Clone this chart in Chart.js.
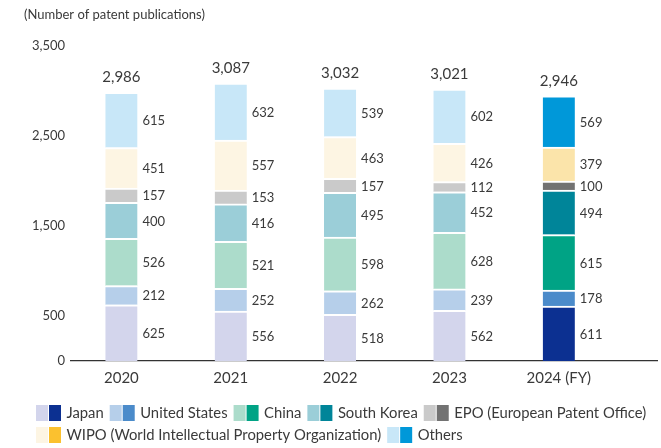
<!DOCTYPE html>
<html>
<head>
<meta charset="utf-8">
<script src="https://cdn.jsdelivr.net/npm/chart.js@4"></script>
<style>
  html, body { margin: 0; padding: 0; background: #fff; }
  #wrap { width: 661px; height: 448px; position: relative; }
</style>
</head>
<body>
<div id="wrap"><canvas id="c" width="661" height="448"></canvas></div>
<script>
const categories = ['2020', '2021', '2022', '2023', '2024 (FY)'];
const japan      = [625, 556, 518, 562, 611];
const us         = [212, 252, 262, 239, 178];
const china      = [526, 521, 598, 628, 615];
const korea      = [400, 416, 495, 452, 494];
const epo        = [157, 153, 157, 112, 100];
const wipo       = [451, 557, 463, 426, 379];
const others     = [615, 632, 539, 602, 569];
const totals     = [2986, 3087, 3032, 3021, 2946];
const yTickValues = [0, 500, 1500, 2500, 3500];

const seriesNames = ['Japan', 'United States', 'China', 'South Korea', 'EPO (European Patent Office)', 'WIPO (World Intellectual Property Organization)', 'Others'];
const seriesData = [japan, us, china, korea, epo, wipo, others];
const lightColors = ['#d3d5ec', '#b6cfea', '#acdccb', '#9bced8', '#cacaca', '#fdf5e3', '#c8e7f8'];
const darkColors  = ['#0c3091', '#4b8bca', '#00a385', '#008599', '#727272', '#fbe4aa', '#0098d9'];
const legendDark  = ['#0c3091', '#4b8bca', '#00a385', '#008599', '#727272', '#fbc12f', '#0098d9'];

const FONT = 'Lato, "Noto Sans", sans-serif';
const TEXT = '#3a3a3a';

const datasets = seriesData.map((arr, s) => ({
  label: seriesNames[s],
  data: arr.map((v, i) => ({ x: i, y: v })),
  backgroundColor: arr.map((v, i) => i === arr.length - 1 ? darkColors[s] : lightColors[s]),
  borderColor: '#ffffff',
  borderWidth: { top: 2, bottom: 0, left: 0, right: 0 },
  borderSkipped: false,
  barThickness: 32
}));

const overlay = {
  id: 'overlay',
  afterDatasetsDraw(chart) {
    const ctx = chart.ctx;
    ctx.save();
    ctx.fillStyle = TEXT;
    ctx.font = '13px ' + FONT;
    ctx.textAlign = 'left';
    ctx.textBaseline = 'middle';
    chart.data.datasets.forEach((ds, di) => {
      const meta = chart.getDatasetMeta(di);
      meta.data.forEach((el, i) => {
        const p = el.getProps(['x', 'y', 'base', 'width'], true);
        ctx.fillText(String(ds.data[i].y), p.x + p.width / 2 + 5, (p.y + p.base) / 2 + 1);
      });
    });
    const topMeta = chart.getDatasetMeta(chart.data.datasets.length - 1);
    ctx.textAlign = 'center';
    ctx.textBaseline = 'alphabetic';
    ctx.font = '15px ' + FONT;
    topMeta.data.forEach((el, i) => {
      ctx.fillText(totals[i].toLocaleString('en-US'), el.x, el.y - 10);
    });
    ctx.restore();
  },
  afterDraw(chart) {
    const ctx = chart.ctx;
    ctx.save();
    ctx.fillStyle = TEXT;
    ctx.font = '13px ' + FONT;
    ctx.textAlign = 'left';
    ctx.textBaseline = 'alphabetic';
    ctx.fillText('(Number of patent publications)', 24, 19);
    ctx.font = '14.8px ' + FONT;
    ctx.textBaseline = 'middle';
    const rows = [[0, 1, 2, 3, 4], [5, 6]];
    const rowTop = [405, 427];
    rows.forEach((row, r) => {
      let x = 36;
      const yT = rowTop[r];
      row.forEach(s => {
        ctx.fillStyle = lightColors[s];
        ctx.fillRect(x, yT, 12, 16);
        ctx.fillStyle = legendDark[s];
        ctx.fillRect(x + 13, yT, 12, 16);
        ctx.fillStyle = TEXT;
        const tx = x + 30.5;
        ctx.fillText(seriesNames[s], tx, yT + 8.5);
        x = tx + ctx.measureText(seriesNames[s]).width + 6;
      });
    });
    ctx.restore();
  }
};

new Chart(document.getElementById('c'), {
  type: 'bar',
  data: { datasets },
  options: {
    responsive: false,
    animation: false,
    layout: { padding: { top: 46, right: 4, bottom: 0, left: 0 } },
    plugins: { legend: { display: false }, tooltip: { enabled: false }, title: { display: false } },
    scales: {
      x: {
        type: 'linear',
        stacked: true,
        offset: false,
        min: -0.461,
        max: 4.898,
        grid: { display: false, drawTicks: false, offset: false },
        border: { display: true, color: '#333333', width: 1.3 },
        afterBuildTicks: s => { s.ticks = categories.map((c, i) => ({ value: i })); },
        afterFit: s => { s.height = 87; },
        ticks: {
          padding: 8,
          autoSkip: false,
          maxRotation: 0,
          color: TEXT,
          font: { family: FONT, size: 15 },
          callback: v => categories[v] !== undefined ? categories[v] : ''
        }
      },
      y: {
        stacked: true,
        min: 0,
        max: 3500,
        grid: { display: false, drawTicks: false },
        border: { display: false },
        afterBuildTicks: s => { s.ticks = yTickValues.map(v => ({ value: v })); },
        afterFit: s => { s.width = 71; },
        ticks: {
          padding: 6,
          color: TEXT,
          font: { family: FONT, size: 13 },
          callback: v => v.toLocaleString('en-US')
        }
      }
    }
  },
  plugins: [overlay]
});
</script>
</body>
</html>
